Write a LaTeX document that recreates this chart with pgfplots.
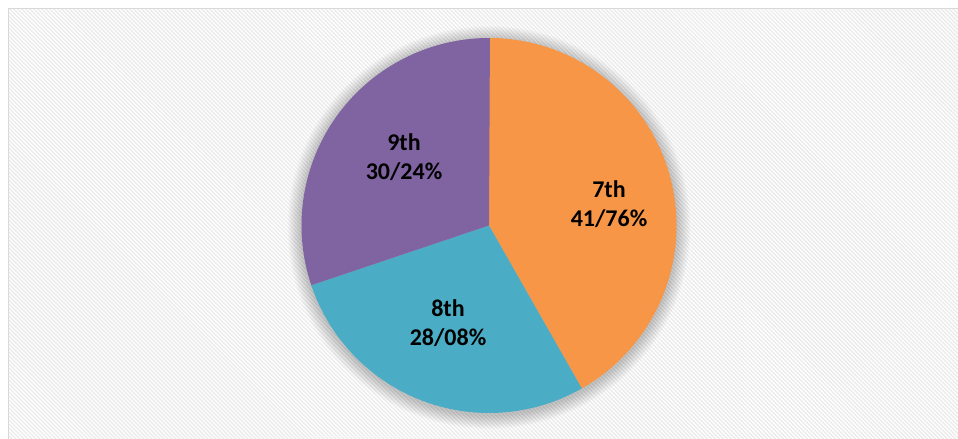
\documentclass[border=0pt]{standalone}
\usepackage{pgfplots}
\pgfplotsset{compat=1.18}
\usepackage{pgfplotstable}
\usepackage{fontspec}
\setmainfont{Carlito}
\usetikzlibrary{patterns.meta}

\definecolor{c7}{HTML}{F79646}
\definecolor{c8}{HTML}{4BACC6}
\definecolor{c9}{HTML}{8064A2}
\definecolor{frame}{HTML}{D9D9D9}
\definecolor{stripe}{HTML}{EBEBEB}

\pgfplotstableread{
grade share
7th 41.76
8th 28.08
9th 30.24
}\piedata

\begin{document}%
\begin{tikzpicture}
\pgfplotstablegetelem{0}{share}\of\piedata \let\va\pgfplotsretval
\pgfplotstablegetelem{1}{share}\of\piedata \let\vb\pgfplotsretval
\pgfplotstablegetelem{2}{share}\of\piedata \let\vc\pgfplotsretval
\pgfmathsetmacro\aA{90}
\pgfmathsetmacro\aB{\aA-3.6*\va}
\pgfmathsetmacro\aC{\aB-3.6*\vb}
\pgfmathsetmacro\aD{\aC-3.6*\vc}
\def\R{140.625pt}
\begin{axis}[
  scale only axis, width=718.5pt, height=329.25pt,
  xmin=0, xmax=958, ymin=0, ymax=439,
  hide axis,
]
\coordinate (BL) at (axis cs:0,0);
\coordinate (TR) at (axis cs:958,439);
% background
\fill[white] (axis cs:0,0) rectangle (axis cs:958,439);
\fill[pattern={Lines[angle=-45,distance=2.12pt,line width=1.0pt]}, pattern color=stripe]
  (axis cs:8.5,0) rectangle (axis cs:958,430.5);
\draw[frame, line width=1.1pt] (axis cs:8.5,0) -- (axis cs:8.5,430.5) -- (axis cs:958,430.5);
% shadow glow
\pgfplotsinvokeforeach{1,2,...,14}{
  \fill[black, opacity=0.016] (axis cs:489,211.5) circle[radius=140.625pt+#1*0.75pt];
}
% slices
\fill[c7] (axis cs:489,213.5) -- ++(\aA:\R) arc[start angle=\aA,end angle=\aB,radius=\R] -- cycle;
\fill[c8] (axis cs:489,213.5) -- ++(\aB:\R) arc[start angle=\aB,end angle=\aC,radius=\R] -- cycle;
\fill[c9] (axis cs:489,213.5) -- ++(\aC:\R) arc[start angle=\aC,end angle=\aD,radius=\R] -- cycle;
% labels
\node[font=\fontsize{18}{21.75}\selectfont\bfseries, align=center] at (axis cs:609,235) {7th\\41/76\%};
\node[font=\fontsize{18}{21.75}\selectfont\bfseries, align=center] at (axis cs:448,116) {8th\\28/08\%};
\node[font=\fontsize{18}{21.75}\selectfont\bfseries, align=center] at (axis cs:404,282) {9th\\30/24\%};
\end{axis}
\pgfresetboundingbox
\useasboundingbox (BL) rectangle (TR);
\end{tikzpicture}%
\end{document}
